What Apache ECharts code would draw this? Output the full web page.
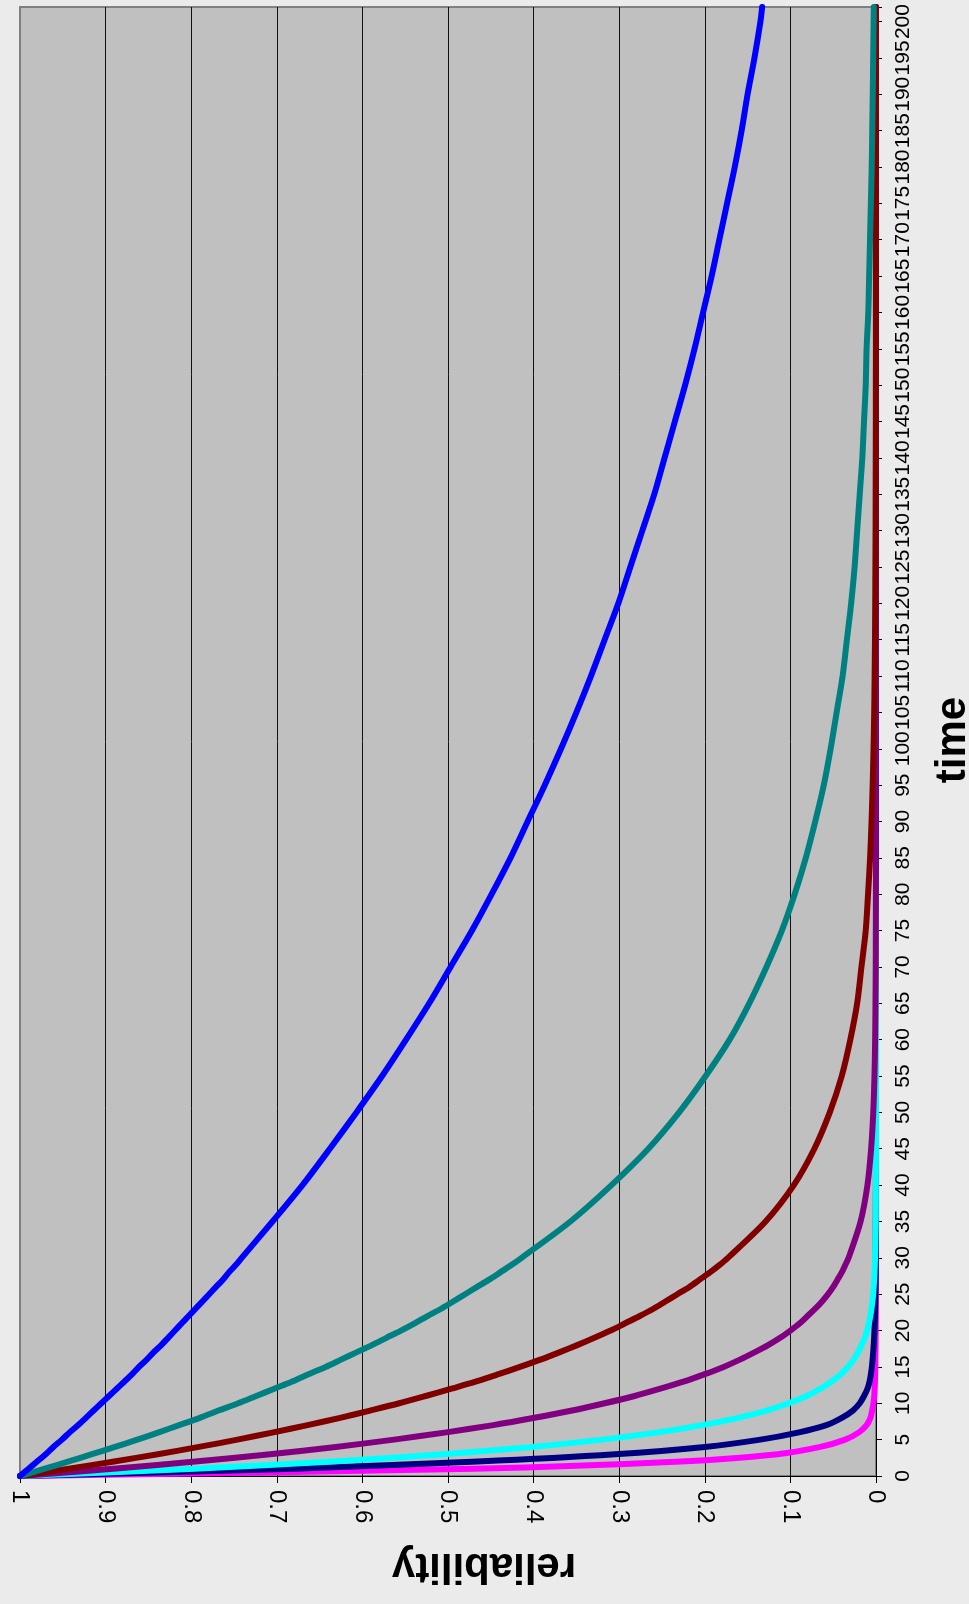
<!DOCTYPE html>
<html>
<head>
<meta charset="utf-8">
<title>reliability vs time</title>
<script src="https://cdn.jsdelivr.net/npm/echarts@6/dist/echarts.min.js"></script>
<style>
  html, body { margin: 0; padding: 0; background: #ebebeb; }
  #chart { width: 969px; height: 1604px; }
</style>
</head>
<body>
<div id="chart"></div>
<script>
// Sample times: every unit up to 30, then every 5, plus the last point at the top edge.
const times = [
  0, 1, 2, 3, 4, 5, 6, 7, 8, 9, 10, 11, 12, 13, 14, 15, 16, 17, 18, 19, 20,
  21, 22, 23, 24, 25, 26, 27, 28, 29, 30,
  35, 40, 45, 50, 55, 60, 65, 70, 75, 80, 85, 90, 95, 100, 105, 110, 115, 120,
  125, 130, 135, 140, 145, 150, 155, 160, 165, 170, 175, 180, 185, 190, 195, 200,
  202
];

// Reliability of each component at the sample times.
const blueR = [
  1.000, 0.990, 0.980, 0.970, 0.961, 0.951, 0.942, 0.932, 0.923, 0.914, 0.905,
  0.896, 0.887, 0.878, 0.869, 0.861, 0.852, 0.844, 0.835, 0.827, 0.819,
  0.811, 0.803, 0.795, 0.787, 0.779, 0.771, 0.763, 0.756, 0.748, 0.741,
  0.705, 0.670, 0.638, 0.607, 0.577, 0.549, 0.522, 0.497, 0.472, 0.449,
  0.427, 0.407, 0.387, 0.368, 0.350, 0.333, 0.317, 0.301, 0.287, 0.273,
  0.259, 0.247, 0.235, 0.223, 0.212, 0.202, 0.192, 0.183, 0.174, 0.165,
  0.157, 0.150, 0.142, 0.135,
  0.133
];
const tealR = [
  1.000, 0.971, 0.943, 0.916, 0.889, 0.863, 0.838, 0.814, 0.790, 0.768, 0.745,
  0.724, 0.703, 0.682, 0.663, 0.643, 0.625, 0.607, 0.589, 0.572, 0.555,
  0.539, 0.524, 0.508, 0.494, 0.480, 0.466, 0.452, 0.439, 0.426, 0.414,
  0.357, 0.309, 0.266, 0.230, 0.199, 0.171, 0.148, 0.128, 0.110, 0.095,
  0.082, 0.071, 0.061, 0.053, 0.046, 0.039, 0.034, 0.029, 0.025, 0.022,
  0.019, 0.016, 0.014, 0.012, 0.011, 0.009, 0.008, 0.007, 0.006, 0.005,
  0.0044, 0.0038, 0.0033, 0.0028,
  0.0026
];
const maroonR = [
  1.000, 0.943, 0.890, 0.839, 0.791, 0.746, 0.704, 0.664, 0.626, 0.591, 0.557,
  0.526, 0.496, 0.467, 0.441, 0.416, 0.392, 0.370, 0.349, 0.329, 0.310,
  0.293, 0.276, 0.260, 0.246, 0.232, 0.218, 0.206, 0.194, 0.183, 0.173,
  0.129, 0.096, 0.072, 0.054, 0.040, 0.030, 0.022, 0.017, 0.012, 0.0093,
  0.0069, 0.0052, 0.0039, 0.0029, 0.0021, 0.0016, 0.0012, 0.0009, 0.0007, 0.0005,
  0.0004, 0.0003, 0.0002, 0.0002, 0.0001, 0.0001, 0.0001, 0.0001, 0.0001, 0.0001,
  0.0001, 0.0001, 0.0001, 0.0001,
  0.0001
];
const purpleR = [
  1.000, 0.891, 0.795, 0.708, 0.631, 0.563, 0.502, 0.447, 0.399, 0.355, 0.317,
  0.282, 0.252, 0.224, 0.200, 0.178, 0.159, 0.142, 0.126, 0.112, 0.100,
  0.089, 0.080, 0.071, 0.063, 0.056, 0.050, 0.045, 0.040, 0.036, 0.032,
  0.018, 0.010, 0.0057, 0.0032, 0.0018, 0.0010, 0.0006, 0.0003, 0.0002, 0.0001,
  0, 0, 0, 0, 0, 0, 0, 0, 0, 0,
  0, 0, 0, 0, 0, 0, 0, 0, 0, 0,
  0, 0, 0, 0,
  0
];
const cyanR = [
  1.000, 0.796, 0.634, 0.505, 0.402, 0.320, 0.255, 0.203, 0.161, 0.128, 0.102,
  0.081, 0.065, 0.052, 0.041, 0.033, 0.026, 0.021, 0.017, 0.013, 0.0105,
  0.0083, 0.0066, 0.0053, 0.0042, 0.0033, 0.0027, 0.0021, 0.0017, 0.0014, 0.0011,
  0.0003, 0.0001, 0, 0, 0, 0, 0, 0, 0, 0,
  0, 0, 0, 0, 0, 0, 0, 0, 0, 0,
  0, 0, 0, 0, 0, 0, 0, 0, 0, 0,
  0, 0, 0, 0,
  0
];
const navyR = [
  1.000, 0.680, 0.465, 0.305, 0.200, 0.135, 0.090, 0.058, 0.040, 0.027, 0.019,
  0.014, 0.010, 0.0075, 0.006, 0.0048, 0.004, 0.0033, 0.0027, 0.0022, 0.0018,
  0.0015, 0.0012, 0.0010, 0.0008, 0.0007, 0.0006, 0.0005, 0.0004, 0.0004, 0.0003,
  0.0002, 0.0001, 0, 0, 0, 0, 0, 0, 0, 0,
  0, 0, 0, 0, 0, 0, 0, 0, 0, 0,
  0, 0, 0, 0, 0, 0, 0, 0, 0, 0,
  0, 0, 0, 0,
  0
];
const magentaR = [
  1.000, 0.470, 0.228, 0.115, 0.065, 0.036, 0.020, 0.011, 0.0065, 0.0045, 0.0030,
  0.0020, 0.0015, 0.0012, 0.0010, 0.0008, 0.0007, 0.0006, 0.0005, 0.0004, 0.0003,
  0.0003, 0.0002, 0.0002, 0.0002, 0.0001, 0.0001, 0.0001, 0.0001, 0.0001, 0.0001,
  0.0001, 0, 0, 0, 0, 0, 0, 0, 0, 0,
  0, 0, 0, 0, 0, 0, 0, 0, 0, 0,
  0, 0, 0, 0, 0, 0, 0, 0, 0, 0,
  0, 0, 0, 0,
  0
];

// Reliability axis ticks, left to right.
const reliabilityTicks = ['1', '0.9', '0.8', '0.7', '0.6', '0.5', '0.4', '0.3', '0.2', '0.1', '0'];

// Drawn first to last: the steepest curve lies underneath.
const curves = [
  { name: 'magenta', color: '#ff00ff', values: magentaR },
  { name: 'navy',    color: '#000080', values: navyR },
  { name: 'cyan',    color: '#00ffff', values: cyanR },
  { name: 'purple',  color: '#800080', values: purpleR },
  { name: 'maroon',  color: '#800000', values: maroonR },
  { name: 'teal',    color: '#008080', values: tealR },
  { name: 'blue',    color: '#0000ff', values: blueR }
];

const FONT = '"Liberation Sans", Arial, Helvetica, sans-serif';

const chart = echarts.init(document.getElementById('chart'), null, { renderer: 'canvas' });

chart.setOption({
  backgroundColor: '#ebebeb',
  animation: false,
  grid: {
    left: 20, right: 93, top: 7, bottom: 128,
    show: true,
    backgroundColor: '#c0c0c0',
    borderColor: '#808080',
    borderWidth: 2
  },
  xAxis: {
    type: 'value',
    min: 0, max: 1, interval: 0.1,
    inverse: true,
    position: 'bottom',
    axisLine: { show: true, onZero: false, lineStyle: { color: '#000', width: 1 } },
    axisTick: { show: true, length: 7, lineStyle: { color: '#000', width: 1 } },
    axisLabel: {
      rotate: -90, margin: 14, fontSize: 24, color: '#000', fontFamily: FONT,
      formatter: function (v) {
        const i = Math.round((1 - v) * 10);
        return reliabilityTicks[i] !== undefined ? reliabilityTicks[i] : '';
      }
    },
    splitLine: { show: true, showMinLine: false, showMaxLine: false, lineStyle: { color: '#111', width: 1 } }
  },
  yAxis: {
    type: 'value',
    min: 0, max: 202, interval: 5,
    position: 'right',
    axisLine: { show: true, onZero: false, lineStyle: { color: '#000', width: 1 } },
    axisTick: { show: true, length: 6, lineStyle: { color: '#000', width: 1 } },
    axisLabel: {
      rotate: 90, margin: 17, fontSize: 21, color: '#000', fontFamily: FONT,
      formatter: function (v) { return v % 5 === 0 ? String(v) : ''; }
    },
    splitLine: { show: false }
  },
  graphic: [
    {
      type: 'text', x: 484, y: 1566, rotation: Math.PI, z: 10,
      style: {
        text: 'reliability', fill: '#000',
        font: 'bold 42px ' + FONT,
        textAlign: 'center', textVerticalAlign: 'middle',
        align: 'center', verticalAlign: 'middle'
      }
    },
    {
      type: 'text', x: 953, y: 740, rotation: Math.PI / 2, z: 10,
      style: {
        text: 'time', fill: '#000',
        font: 'bold 42px ' + FONT,
        textAlign: 'center', textVerticalAlign: 'middle',
        align: 'center', verticalAlign: 'middle'
      }
    }
  ],
  series: curves.map(function (c) {
    return {
      name: c.name,
      type: 'line',
      showSymbol: false,
      symbol: 'none',
      clip: false,
      smooth: 0.3,
      lineStyle: { color: c.color, width: 6, cap: 'round', join: 'round' },
      itemStyle: { color: c.color },
      data: times.map(function (t, i) { return [c.values[i], t]; })
    };
  })
});
</script>
</body>
</html>
